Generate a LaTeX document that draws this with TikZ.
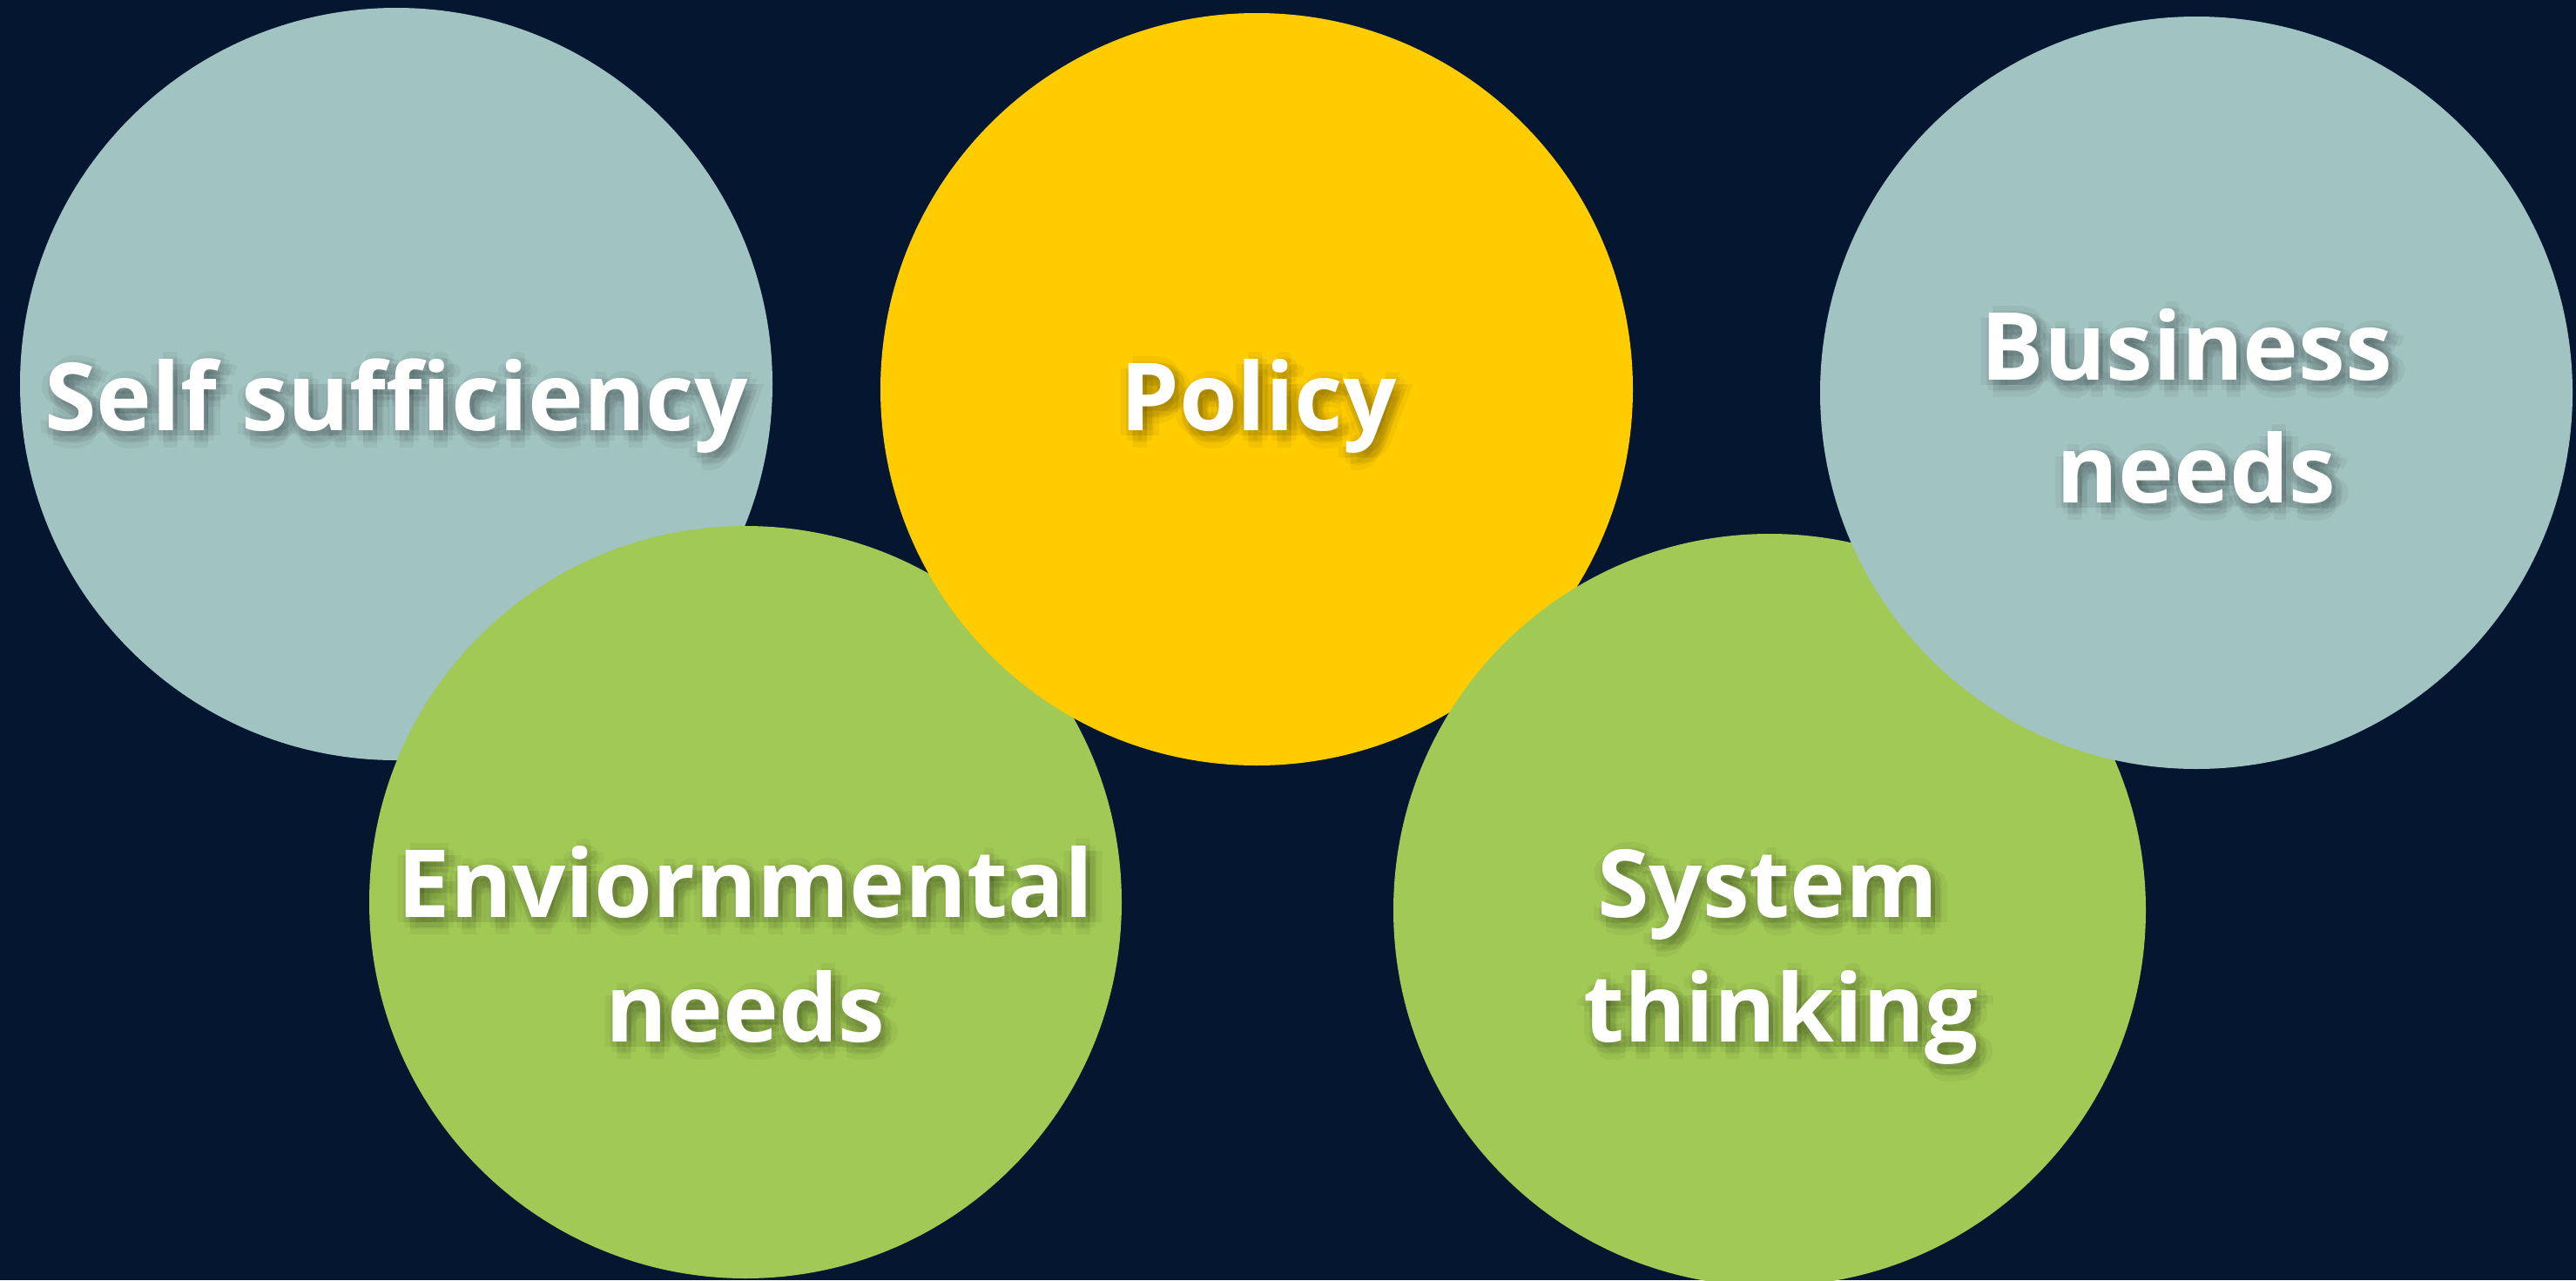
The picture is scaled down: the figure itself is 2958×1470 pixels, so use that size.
\documentclass[tikz,border=0pt]{standalone}
\usepackage{fontspec}
\setmainfont{Open Sans}
\definecolor{bg}{HTML}{051630}
\definecolor{tealc}{HTML}{A1C3C1}
\definecolor{yelc}{HTML}{FFCC00}
\definecolor{grnc}{HTML}{A1C955}
\tikzset{
  blob/.style={circle, minimum size=864pt, inner sep=0pt, draw=none},
  txt/.style={anchor=base, inner sep=0pt, font=\bfseries\fontsize{108}{141}\selectfont},
}
\newcommand\shlabel[4]{% name, x, y, text
  \foreach \dx/\dy/\k in {5/6/a,13/6/b,-3/6/c,5/14/d,5/-2/e,11/12/f,-1/12/g,11/0/h,-1/0/i,19/6/j,5/20/k,-9/6/l,5/-8/m}{
    \node[txt, text=black, opacity=0.045, xshift=\dx pt, yshift=-\dy pt] (#1-\k) at (#2,#3) {#4};
  }
  \node[txt, text=white] (#1) at (#2,#3) {#4};
}
\begin{document}
\begin{tikzpicture}[x=1pt,y=-1pt]
\fill[bg] (0,0) rectangle (2958,1470);
\useasboundingbox (0,0) rectangle (2958,1470);
\clip (0,0) rectangle (2958,1470);
\node[blob, fill=tealc] (self) at (455,441) {};
\node[blob, fill=grnc] (env) at (856,1036) {};
\node[blob, fill=yelc] (policy) at (1443,447) {};
\node[blob, fill=grnc] (sys) at (2032,1045) {};
\node[blob, fill=tealc] (bus) at (2522,451) {};
\shlabel{tself}{455}{494}{Self sufficiency}
\shlabel{tpol}{1445}{494}{Policy}
\shlabel{tbus1}{2511}{436}{Business}
\shlabel{tbus2}{2522}{577}{needs}
\shlabel{tenv1}{856}{1053}{Enviornmental}
\shlabel{tenv2}{856}{1196}{needs}
\shlabel{tsys1}{2030}{1053}{System}
\shlabel{tsys2}{2045}{1196}{thinking}
\end{tikzpicture}
\end{document}
